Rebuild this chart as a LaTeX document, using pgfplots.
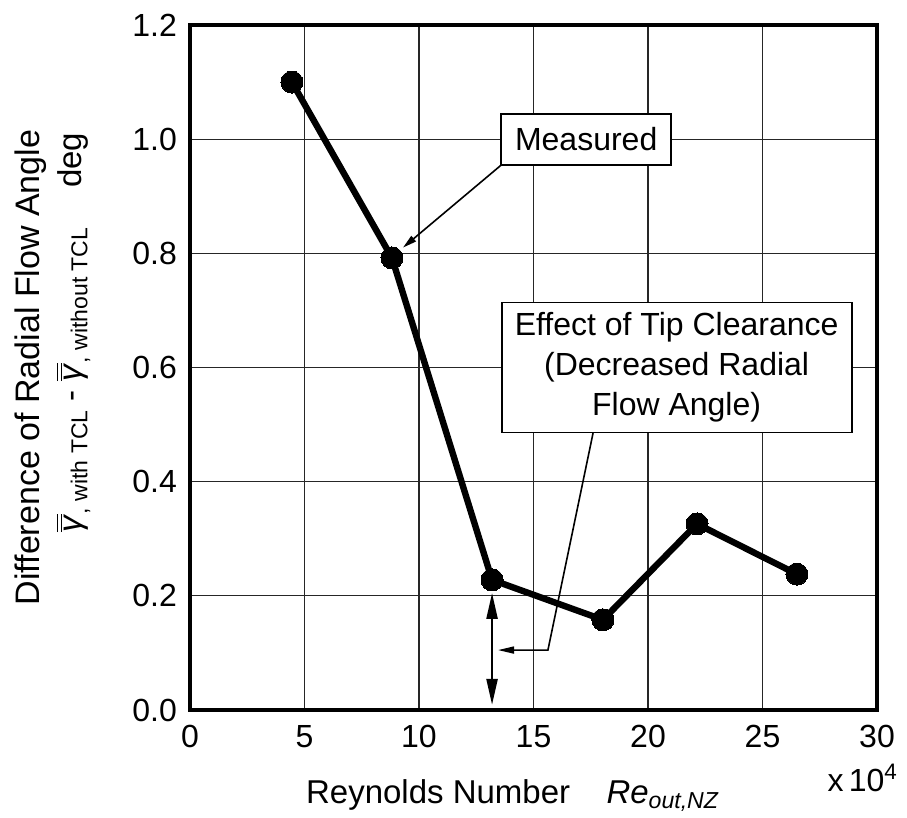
\documentclass[border=0pt]{standalone}
\usepackage{pgfplots}
\pgfplotsset{compat=1.18}
\usepackage{fontspec}
\setmainfont{Liberation Sans}
\usetikzlibrary{arrows.meta}

\newcommand\dbar[1]{\leavevmode\vbox{\hrule height 0.7pt\kern1.3pt\hrule height 0.7pt\kern1.0pt\hbox{#1}}}
\newcommand\sub[1]{\raisebox{-0.35ex}{\fontsize{11.5}{12}\selectfont #1}}

\begin{document}
\begin{tikzpicture}
\begin{axis}[
  scale only axis, width=343.5pt, height=342.5pt,
  xmin=0, xmax=30, ymin=0, ymax=1.2,
  xtick={0,5,10,15,20,25,30},
  ytick={0,0.2,0.4,0.6,0.8,1.0,1.2},
  /pgf/number format/assume math mode=true,
  yticklabel style={/pgf/number format/fixed, /pgf/number format/fixed zerofill, /pgf/number format/precision=1, xshift=-3pt},
  xticklabel style={yshift=-4pt},
  tick label style={font=\fontsize{16}{19}\selectfont},
  major tick length=0pt,
  grid=major,
  grid style={black!85, line width=0.6pt},
  axis line style={line width=2pt},
  label style={font=\fontsize{16.5}{19}\selectfont},
  xlabel={Reynolds Number\hspace{1.1em}\textit{Re}\textsubscript{\textit{out,NZ}}},
  xlabel style={at={(axis description cs:0.47,-0.125)}, anchor=center},
  ylabel={{\fontsize{17}{19}\selectfont Difference of Radial Flow Angle}\\[2pt]\hspace*{35pt}\dbar{\textit{γ}}\sub{, with TCL} - \dbar{\textit{γ}}\sub{, without TCL}\hspace{1.2em}deg},
  ylabel style={at={(axis description cs:-0.2,0.5)}, anchor=center, align=center},
]
\addplot[black, line width=3.2pt, mark=*, mark size=5.5pt, mark options={solid, fill=black, line width=0pt}]
  coordinates {(4.45,1.10) (8.82,0.792) (13.19,0.228) (18.03,0.158) (22.14,0.326) (26.5,0.238)};

\node[draw, line width=0.9pt, fill=white, minimum width=85pt, minimum height=25.5pt, inner sep=0pt, font=\fontsize{16}{19}\selectfont] at (axis cs:17.3,1.0) {Measured};
\draw[line width=0.8pt, -{Triangle[length=7pt,width=3.5pt]}] (axis cs:13.6,0.955) -- (axis cs:9.3,0.81);

\node[draw, line width=0.9pt, fill=white, minimum width=175pt, minimum height=65pt, align=center, inner sep=0pt, font=\fontsize{16}{20}\selectfont] at (axis cs:21.25,0.6) {Effect of Tip Clearance\\(Decreased Radial\\Flow Angle)};
\draw[line width=0.8pt, -{Triangle[length=8pt,width=3.5pt]}] (axis cs:17.6,0.485) -- (axis cs:15.63,0.105) -- (axis cs:13.45,0.105);
\draw[line width=1.2pt, {Triangle[length=13pt,width=5.5pt]}-{Triangle[length=13pt,width=5.5pt]}] (axis cs:13.19,0.205) -- (axis cs:13.19,0.009);
\end{axis}
\node[anchor=east, font=\fontsize{16}{19}\selectfont] at ([xshift=14pt, yshift=-34pt]current axis.south east) {x\,10\textsuperscript{4}};
\pgfresetboundingbox
\path ([shift={(-95pt,-53.5pt)}]current axis.south west) rectangle ([shift={(15pt,12.5pt)}]current axis.north east);
\end{tikzpicture}
\end{document}
